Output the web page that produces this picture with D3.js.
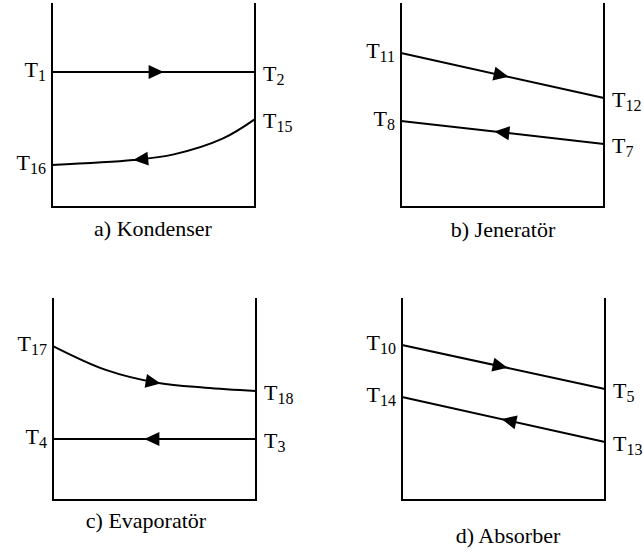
<!DOCTYPE html>
<html>
<head>
<meta charset="utf-8">
<script src="https://cdn.jsdelivr.net/npm/d3@7"></script>
<style>
  body { margin: 0; background: #fff; }
  svg { display: block; }
</style>
</head>
<body>
<div id="chart"></div>
<script>
// panel captions, in reading order
const captions = ["a) Kondenser", "b) Jeneratör", "c) Evaporatör", "d) Absorber"];

// each stream: inlet/outlet subscripts (left end, right end), flow direction,
// where the arrow tip sits (fraction along the exchanger) and [position, temperature] points
const kondenserStreams = [
  { left: "1", right: "2", dir: 1, arrowAt: 0.55, values: [[0, 66.2], [1, 66.2]] },
  { left: "16", right: "15", dir: -1, arrowAt: 0.40,
    values: [[0, 20.6], [0.4, 23.0], [0.6, 25.8], [0.84, 33.5], [1, 43.1]] }
];
const jeneratorStreams = [
  { left: "11", right: "12", dir: 1, arrowAt: 0.53, values: [[0, 75.5], [1, 53.4]] },
  { left: "8", right: "7", dir: -1, arrowAt: 0.46, values: [[0, 42.2], [1, 30.9]] }
];
const evaporatorStreams = [
  { left: "17", right: "18", dir: 1, arrowAt: 0.53,
    values: [[0, 76.2], [0.26, 64.4], [0.52, 57.9], [0.75, 55.6], [1, 54.0]] },
  { left: "4", right: "3", dir: -1, arrowAt: 0.45, values: [[0, 30.2], [1, 30.2]] }
];
const absorberStreams = [
  { left: "10", right: "5", dir: 1, arrowAt: 0.52, values: [[0, 76.7], [1, 55.0]] },
  { left: "14", right: "13", dir: -1, arrowAt: 0.49, values: [[0, 51.0], [1, 28.7]] }
];

const width = 643, height = 556;
const serif = '"Liberation Serif", "Times New Roman", "DejaVu Serif", serif';

// panel boxes (left, top, right, bottom) and caption placement
const layout = [
  { x0: 52, y0: 3, x1: 255, y1: 207, capX: 153, capY: 236 },
  { x0: 401, y0: 3, x1: 604, y1: 207, capX: 503, capY: 237 },
  { x0: 53, y0: 298, x1: 256, y1: 500, capX: 146, capY: 528 },
  { x0: 402, y0: 298, x1: 605, y1: 500, capX: 508, capY: 543 }
];
const panelStreams = [kondenserStreams, jeneratorStreams, evaporatorStreams, absorberStreams];

const svg = d3.select("#chart").append("svg")
  .attr("width", width)
  .attr("height", height);

function addLabel(g, x, y, sub, anchor) {
  const t = g.append("text")
    .attr("x", x)
    .attr("y", y)
    .attr("text-anchor", anchor)
    .attr("font-family", serif)
    .attr("font-size", 22);
  t.append("tspan").text("T");
  t.append("tspan").attr("dy", 4).attr("font-size", 16).text(sub);
}

panelStreams.forEach((streams, i) => {
  const box = layout[i];
  const g = svg.append("g").attr("class", "panel");

  const x = d3.scaleLinear().domain([0, 1]).range([box.x0, box.x1]);
  const y = d3.scaleLinear().domain([0, 100]).range([box.y1, box.y0]);

  // U shaped frame: two walls and the floor
  g.append("path")
    .attr("d", d3.line()([[x(0), y(100)], [x(0), y(0)], [x(1), y(0)], [x(1), y(100)]]))
    .attr("fill", "none")
    .attr("stroke", "#000")
    .attr("stroke-width", 2);

  const line = d3.line()
    .x((d) => x(d[0]))
    .y((d) => y(d[1]))
    .curve(d3.curveCatmullRom.alpha(0.5));

  streams.forEach((s) => {
    const path = g.append("path")
      .attr("d", line(s.values))
      .attr("fill", "none")
      .attr("stroke", "#000")
      .attr("stroke-width", 2);

    // find the point on the path at the arrow's x position
    const node = path.node();
    const total = node.getTotalLength();
    const tx = x(s.arrowAt);
    let lo = 0, hi = total;
    for (let k = 0; k < 30; k++) {
      const mid = (lo + hi) / 2;
      if (node.getPointAtLength(mid).x < tx) lo = mid; else hi = mid;
    }
    const L = (lo + hi) / 2;
    const p = node.getPointAtLength(L);
    const q = node.getPointAtLength(Math.max(0, Math.min(total, L - 2 * s.dir)));
    const ang = Math.atan2(p.y - q.y, p.x - q.x) * 180 / Math.PI;

    g.append("path")
      .attr("d", "M0,0 L-15,-7 L-15,7 Z")
      .attr("transform", `translate(${p.x},${p.y}) rotate(${ang})`)
      .attr("fill", "#000");

    const first = s.values[0];
    const last = s.values[s.values.length - 1];
    addLabel(g, x(0) - 6, y(first[1]) + 5, s.left, "end");
    addLabel(g, x(1) + 8, y(last[1]) + 9, s.right, "start");
  });

  g.append("text")
    .attr("x", box.capX)
    .attr("y", box.capY)
    .attr("text-anchor", "middle")
    .attr("font-family", serif)
    .attr("font-size", 22)
    .text(captions[i]);
});
</script>
</body>
</html>
